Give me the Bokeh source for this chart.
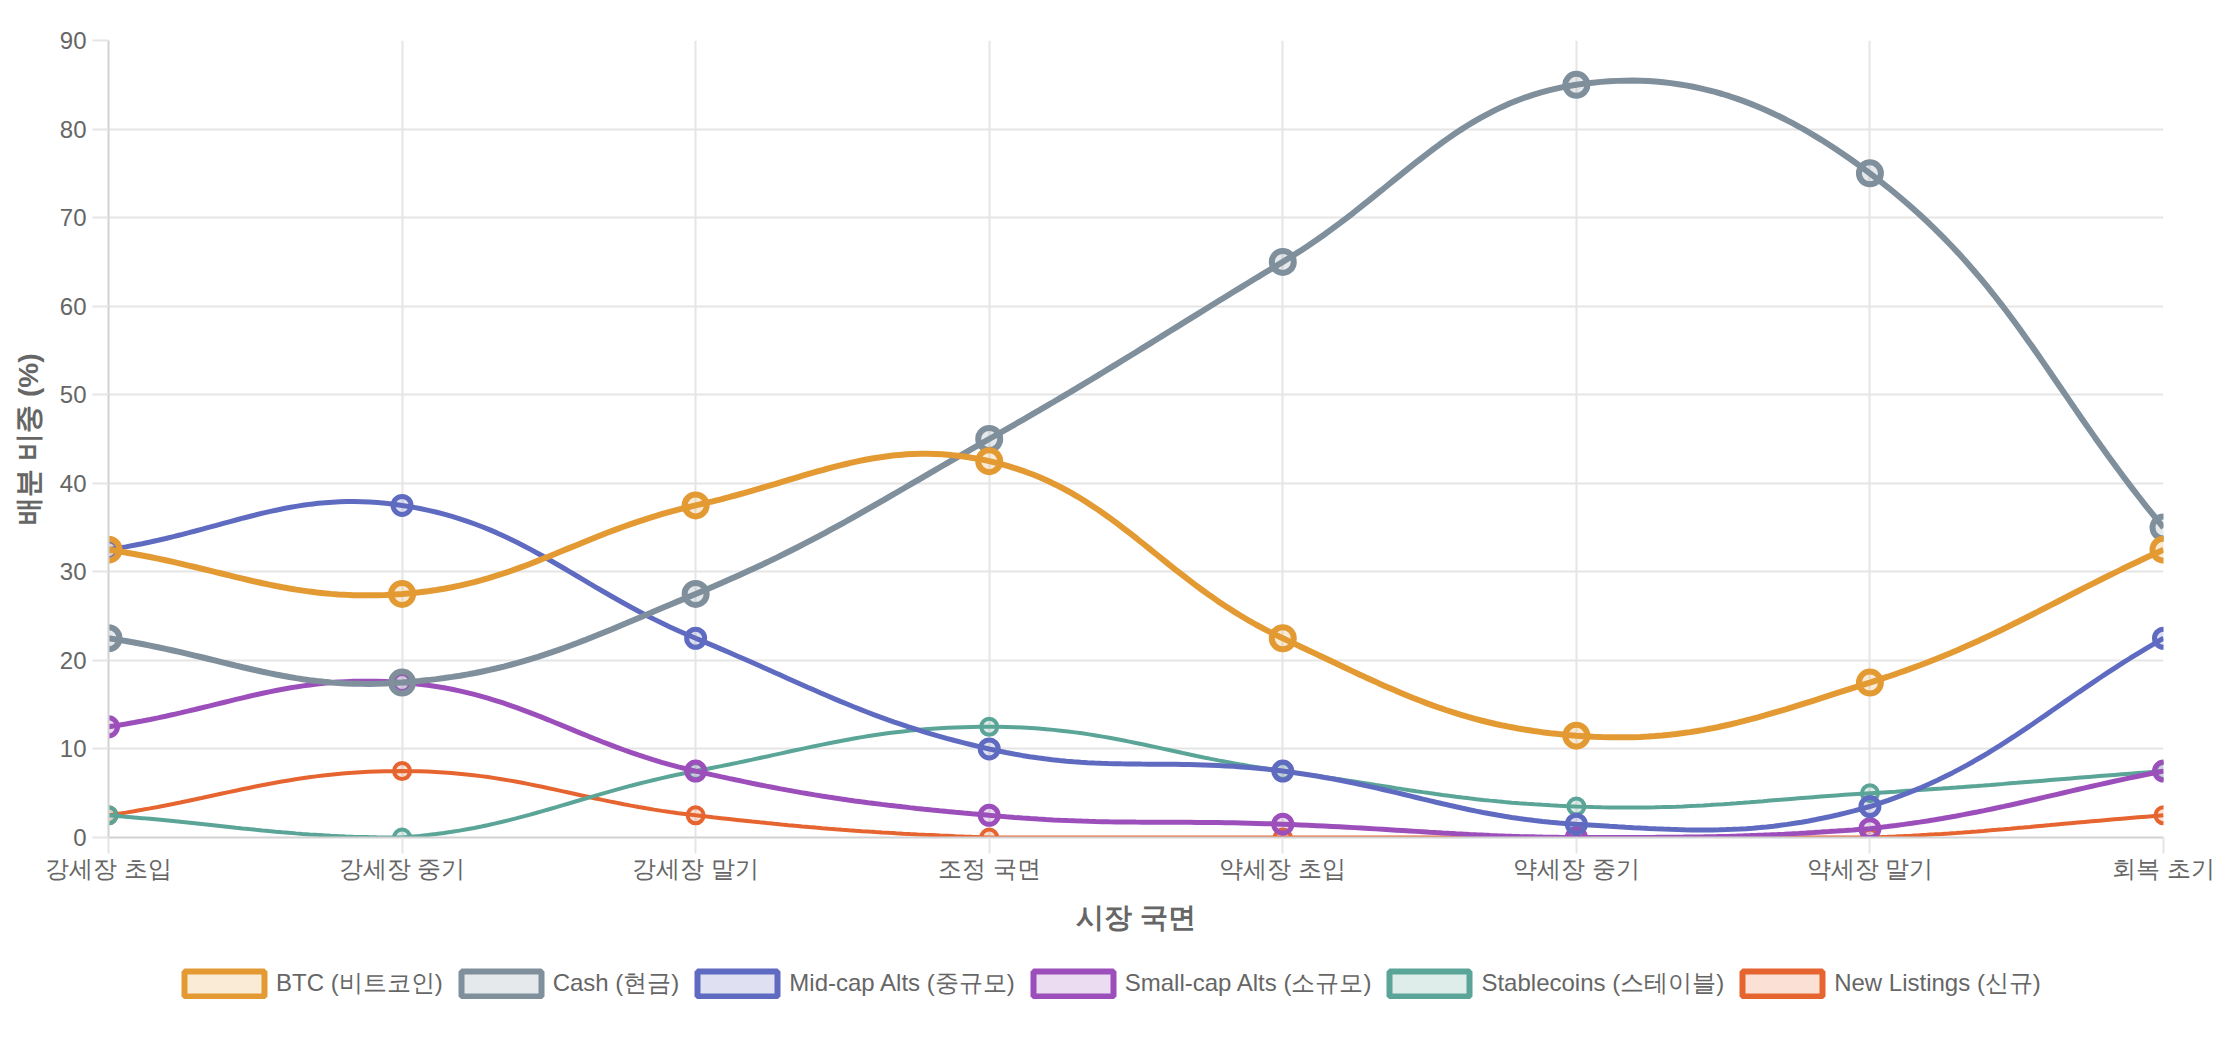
import math
from bokeh.plotting import figure
from bokeh.layouts import column
from bokeh.models import Range1d, FixedTicker, Legend, LegendItem, ColumnDataSource
from bokeh.embed import file_html
from bokeh.resources import INLINE

# ---------------- data ----------------
phases = ["강세장 초입", "강세장 중기", "강세장 말기", "조정 국면",
          "약세장 초입", "약세장 중기", "약세장 말기", "회복 초기"]
btc = [32.5, 27.5, 37.5, 42.5, 22.5, 11.5, 17.5, 32.5]
cash = [22.5, 17.5, 27.5, 45, 65, 85, 75, 35]
midcap = [32.5, 37.5, 22.5, 10, 7.5, 1.5, 3.5, 22.5]
smallcap = [12.5, 17.5, 7.5, 2.5, 1.5, 0, 1, 7.5]
stablecoins = [2.5, 0, 7.5, 12.5, 7.5, 3.5, 5, 7.5]
new_listings = [2.5, 7.5, 2.5, 0, 0, 0, 0, 2.5]

series_names = ["BTC (비트코인)", "Cash (현금)", "Mid-cap Alts (중규모)",
                "Small-cap Alts (소규모)", "Stablecoins (스테이블)", "New Listings (신규)"]
series_values = [btc, cash, midcap, smallcap, stablecoins, new_listings]
series_colors = ["#e49a33", "#7f8f9c", "#5f6bc0", "#9c4fba", "#5aa597", "#e6642f"]
line_widths = [6, 6, 5, 5, 4, 4]
marker_sizes = [22, 22, 18, 18, 16, 16]

y_ticks = [0, 10, 20, 30, 40, 50, 60, 70, 80, 90]

# ---------------- layout ----------------
W, H = 2220, 1044
LEG_H = 94
MAIN_H = H - LEG_H
LEFT, RIGHT, TOP = 108, 57, 40
BOTTOM = MAIN_H - 837
FW = W - LEFT - RIGHT
FH = MAIN_H - TOP - BOTTOM
XMAX = len(phases) - 1
YMAX = 90
SX = FW / XMAX
SY = FH / YMAX

TEXT = "#666666"
FONT = "Liberation Sans"


def tension_curve(ys, t=0.4, n=40):
    """Chart.js style tension spline (in pixel space), returned in data units."""
    xs = list(range(len(ys)))
    px = [x * SX for x in xs]
    py = [y * SY for y in ys]
    N = len(px)
    prev_cp, next_cp = [], []

    def clamp(x, y):
        return (min(max(x, 0), XMAX * SX), min(max(y, 0), YMAX * SY))

    for i in range(N):
        x0, y0 = (px[i - 1], py[i - 1]) if i > 0 else (px[i], py[i])
        x1, y1 = px[i], py[i]
        x2, y2 = (px[i + 1], py[i + 1]) if i < N - 1 else (px[i], py[i])
        d01 = math.hypot(x1 - x0, y1 - y0)
        d12 = math.hypot(x2 - x1, y2 - y1)
        tot = d01 + d12
        s01 = d01 / tot if tot else 0
        s12 = d12 / tot if tot else 0
        fa, fb = t * s01, t * s12
        prev_cp.append(clamp(x1 - fa * (x2 - x0), y1 - fa * (y2 - y0)))
        next_cp.append(clamp(x1 + fb * (x2 - x0), y1 + fb * (y2 - y0)))
    cx, cy = [px[0]], [py[0]]
    for i in range(N - 1):
        P0 = (px[i], py[i]); C1 = next_cp[i]; C2 = prev_cp[i + 1]; P3 = (px[i + 1], py[i + 1])
        for k in range(1, n + 1):
            u = k / n
            a = (1 - u) ** 3; b = 3 * (1 - u) ** 2 * u; c = 3 * (1 - u) * u ** 2; d = u ** 3
            cx.append(a * P0[0] + b * C1[0] + c * C2[0] + d * P3[0])
            cy.append(a * P0[1] + b * C1[1] + c * C2[1] + d * P3[1])
    return [v / SX for v in cx], [v / SY for v in cy]


p = figure(width=W, height=MAIN_H, output_backend="svg", toolbar_location=None,
           x_range=Range1d(0, XMAX), y_range=Range1d(0, YMAX),
           min_border_left=LEFT, min_border_right=RIGHT,
           min_border_top=TOP, min_border_bottom=BOTTOM)
p.outline_line_color = None
p.background_fill_color = "white"
p.border_fill_color = "white"

grid_col = "#e5e5e5"
p.xgrid.ticker = FixedTicker(ticks=list(range(len(phases))))
p.ygrid.ticker = FixedTicker(ticks=y_ticks)
for g in (p.xgrid, p.ygrid):
    g.grid_line_color = grid_col
    g.grid_line_width = 2

p.xaxis.ticker = FixedTicker(ticks=list(range(len(phases))))
p.xaxis.major_label_overrides = {i: lab for i, lab in enumerate(phases)}
p.yaxis.ticker = FixedTicker(ticks=y_ticks)

for ax in (p.xaxis, p.yaxis):
    ax.axis_line_color = "#d2d2d2"
    ax.axis_line_width = 2
    ax.major_tick_line_color = grid_col
    ax.major_tick_line_width = 2
    ax.major_tick_out = 16
    ax.major_tick_in = 0
    ax.minor_tick_line_color = None
    ax.major_label_text_font = FONT
    ax.major_label_text_font_size = "24px"
    ax.major_label_text_color = TEXT
    ax.axis_label_text_font = FONT
    ax.axis_label_text_font_size = "28px"
    ax.axis_label_text_font_style = "bold"
    ax.axis_label_text_color = TEXT

p.xaxis.axis_label = "시장 국면"
p.yaxis.axis_label = "배분 비중 (%)"
p.xaxis.major_label_standoff = 1
p.yaxis.major_label_standoff = 6
p.xaxis.axis_label_standoff = 17
p.yaxis.axis_label_standoff = 13

# draw in reverse so that the first series is on top (as in the reference)
xs_idx = list(range(len(phases)))
for name, vals, col, lw, ms in reversed(list(zip(series_names, series_values, series_colors,
                                                  line_widths, marker_sizes))):
    cx, cy = tension_curve(vals)
    p.line(cx, cy, line_color=col, line_width=lw)
    p.scatter(xs_idx, vals, size=ms, line_color=col, line_width=lw,
              fill_color=col, fill_alpha=0.2)

# ---------------- legend (own strip below the chart) ----------------
lp = figure(width=W, height=LEG_H, output_backend="svg", toolbar_location=None,
            x_axis_type=None, y_axis_type=None, min_border=0,
            x_range=Range1d(0, 1), y_range=Range1d(0, 1))
lp.outline_line_color = None
lp.grid.visible = False
lp.background_fill_color = "white"
lp.border_fill_color = "white"

items = []
for name, col in zip(series_names, series_colors):
    src = ColumnDataSource(dict(x=[float("nan")], y=[float("nan")]))
    r = lp.rect(x="x", y="y", width=1, height=1, source=src, fill_color=col, fill_alpha=0.2,
                line_color=col, line_width=6)
    items.append(LegendItem(label=name, renderers=[r]))

legend = Legend(items=items, orientation="horizontal", location=(66, 45),
                glyph_width=100, glyph_height=31, label_standoff=2, spacing=8,
                label_text_font=FONT, label_text_font_size="24px", label_text_color=TEXT,
                border_line_color=None, background_fill_alpha=0,
                padding=8, margin=0)
lp.add_layout(legend, "center")

layout = column(p, lp, spacing=0)
open("out.html", "w").write(file_html(layout, INLINE))
